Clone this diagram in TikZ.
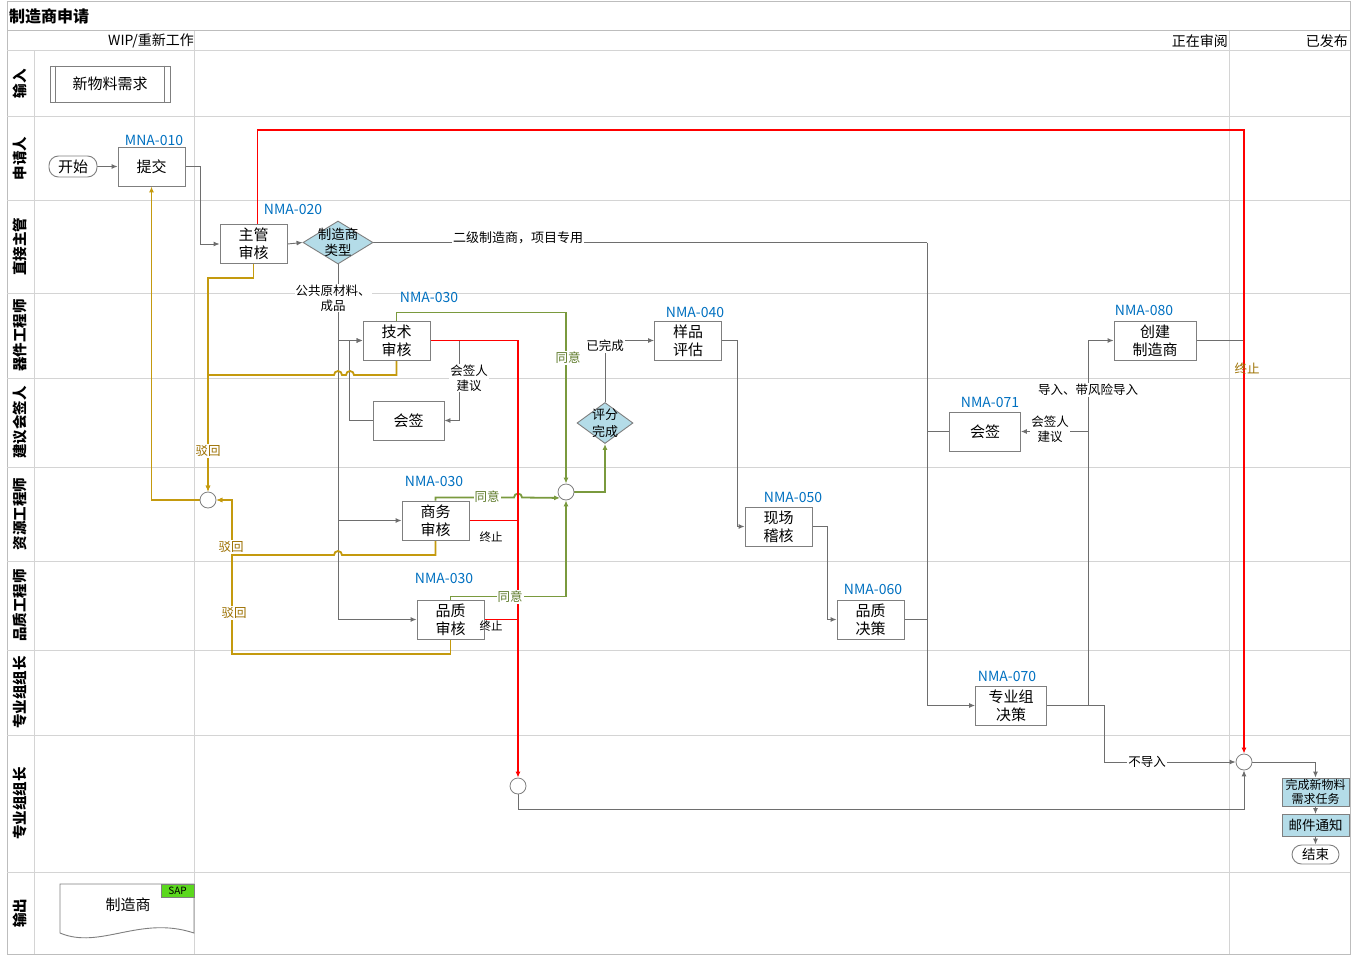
\documentclass[tikz,border=0pt]{standalone}
\usepackage{fontspec}
\setmainfont{Noto Sans CJK SC}
\usetikzlibrary{arrows.meta,shapes.geometric}
\definecolor{gridc}{HTML}{D4D4D4}
\definecolor{gridd}{HTML}{BDBDBD}
\definecolor{boxc}{HTML}{7F7F7F}
\definecolor{lnc}{HTML}{6E6E6E}
\definecolor{goldc}{HTML}{C49A0E}
\definecolor{goldt}{HTML}{9C7000}
\definecolor{grnc}{HTML}{7A9A3E}
\definecolor{grnt}{HTML}{5E7A2A}
\definecolor{redc}{HTML}{FF0000}
\definecolor{bluet}{HTML}{0070C0}
\definecolor{fillb}{HTML}{B4DCE8}
\definecolor{sapg}{HTML}{5BD81E}
\pgfdeclarelayer{bg}
\pgfsetlayers{bg,main}
\tikzset{
  box/.style={draw=boxc, fill=white, line width=0.9pt, minimum width=67pt, minimum height=39pt, inner sep=0pt, align=center, font=\fontsize{15}{18}\selectfont},
  bluebox/.style={draw=boxc, fill=fillb, line width=0.9pt, minimum width=67pt, inner sep=0pt, align=center},
  stad/.style={draw=boxc, fill=white, line width=0.9pt, rounded corners=9.5pt, inner sep=0pt},
  dia/.style={diamond, draw=boxc, fill=fillb, line width=0.9pt, inner sep=0pt},
  dtext/.style={align=center, inner sep=0pt, font=\fontsize{13.5}{16.5}\selectfont},
  circ/.style={circle, draw=boxc, fill=white, line width=0.8pt, minimum size=16pt, inner sep=0pt},
  idl/.style={text=bluet, inner sep=0pt, font=\fontsize{14}{16}\selectfont},
  lane/.style={rotate=90, inner sep=0pt, font=\bfseries\fontsize{14.5}{15}\selectfont},
  lbl/.style={fill=white, inner sep=1pt, align=center, font=\fontsize{12.5}{15}\selectfont},
  conn/.style={draw=lnc, line width=0.9pt},
  goldl/.style={draw=goldc, line width=1.8pt},
  grnl/.style={draw=grnc, line width=1.8pt},
  redl/.style={draw=redc, line width=1.9pt},
  arr/.style={-{Latex[length=6pt,width=5pt]}},
  gridl/.style={draw=gridc, line width=1pt},
}
\begin{document}
\begin{tikzpicture}[x=1pt,y=-1pt]
\useasboundingbox (0,0) rectangle (1356,955);
% ---------------- nodes ----------------
\node[anchor=west, inner sep=0pt, font=\bfseries\fontsize{16}{18}\selectfont] (title) at (9,16) {制造商申请};
\node[anchor=east, inner sep=0pt, font=\fontsize{14}{16}\selectfont] (h1) at (194,41) {WIP/重新工作};
\node[anchor=east, inner sep=0pt, font=\fontsize{14}{16}\selectfont] (h2) at (1228,41) {正在审阅};
\node[anchor=east, inner sep=0pt, font=\fontsize{14}{16}\selectfont] (h3) at (1348,41) {已发布};

\node[lane] (ln1) at (20,84) {输入};
\node[lane] (ln2) at (20,158.5) {申请人};
\node[lane] (ln3) at (20,246.5) {直接主管};
\node[lane] (ln4) at (20,335.5) {器件工程师};
\node[lane] (ln5) at (20,422.5) {建议会签人};
\node[lane] (ln6) at (20,514) {资源工程师};
\node[lane] (ln7) at (20,605.5) {品质工程师};
\node[lane] (ln8) at (20,692.5) {专业组组长};
\node[lane] (ln9) at (20,803.5) {专业组组长};
\node[lane] (ln10) at (20,913) {输出};

\node[box, minimum width=120pt, minimum height=36pt] (xwl) at (110,84) {新物料需求};
\node[stad, minimum width=48pt, minimum height=21pt, font=\fontsize{15}{18}\selectfont] (start) at (73,166.5) {开始};
\node[box] (tijiao) at (151.5,166.5) {提交};
\node[box] (zg) at (253.5,244) {主管\\审核};
\node[dia, minimum width=70pt, minimum height=43pt] (mtype) at (338,242.5) {};
\node[dtext] (mtypet) at (338,242.5) {制造商\\类型};
\node[box] (js) at (396.5,340.5) {技术\\审核};
\node[box, minimum width=71pt] (hq1) at (408.5,420.5) {会签};
\node[dia, minimum width=56pt, minimum height=41pt] (pf) at (605,423) {};
\node[dtext, font=\fontsize{13}{16.5}\selectfont] (pft) at (605,423) {评分\\完成};
\node[box] (yp) at (688,340.5) {样品\\评估};
\node[box] (sw) at (435.5,520.5) {商务\\审核};
\node[box] (pz) at (450.5,619.5) {品质\\审核};
\node[circ] (c1) at (208,500) {};
\node[circ] (c2) at (566,492) {};
\node[box] (xc) at (778.5,526.5) {现场\\稽核};
\node[box] (pj) at (870.5,619.5) {品质\\决策};
\node[box, minimum width=71pt] (zy) at (1011,705.5) {专业组\\决策};
\node[box, minimum width=82pt] (cj) at (1155,340.5) {创建\\制造商};
\node[box, minimum width=71pt] (hq2) at (985,431.5) {会签};
\node[circ] (c3) at (1244,762) {};
\node[circ] (c4) at (518,786) {};
\node[bluebox, minimum height=28pt, font=\fontsize{12}{13.5}\selectfont] (wc) at (1315.5,792) {完成新物料\\需求任务};
\node[bluebox, minimum height=22pt, font=\fontsize{13.5}{15}\selectfont] (yj) at (1315.5,825.5) {邮件通知};
\node[stad, minimum width=47pt, minimum height=19pt, font=\fontsize{13.5}{15}\selectfont] (end) at (1315.5,854.5) {结束};

% document output
\draw[draw=boxc, line width=0.9pt, fill=white] (60,884) -- (194,884) -- (194,933) .. controls (140,915) and (100,950) .. (60,933) -- cycle;
\node[inner sep=0pt, font=\fontsize{15}{18}\selectfont] (doc) at (128,905) {制造商};
\node[draw=boxc, fill=sapg, line width=0.8pt, minimum width=33pt, minimum height=13pt, inner sep=0pt, font=\fontsize{10}{10}\selectfont] (sap) at (177.5,890.5) {SAP};

% ids
\node[idl] (i010) at (154,140) {MNA-010};
\node[idl] (i020) at (293,209) {NMA-020};
\node[idl] (i030a) at (429,297) {NMA-030};
\node[idl] (i040) at (695,312) {NMA-040};
\node[idl] (i030b) at (434,481) {NMA-030};
\node[idl] (i030c) at (444,578) {NMA-030};
\node[idl] (i050) at (793,497) {NMA-050};
\node[idl] (i060) at (873,589) {NMA-060};
\node[idl] (i070) at (1007,676) {NMA-070};
\node[idl] (i080) at (1144,310) {NMA-080};
\node[idl] (i071) at (990,402) {NMA-071};

\coordinate (j1) at (927,242.5);
\coordinate (j2) at (1088,705.5);

% connector labels
\node[lbl, font=\fontsize{13}{15}\selectfont] (t1) at (518,238) {二级制造商，项目专用};
\node[lbl] (t2) at (333,298) {公共原材料、\\成品};
\node[lbl] (t3) at (605,346) {已完成};
\node[lbl, text=grnt] (t4) at (568,358) {同意};
\node[lbl] (t5) at (469,378) {会签人\\建议};
\node[lbl, text=goldt] (t6) at (208,451) {驳回};
\node[lbl, text=goldt] (t7) at (231,547) {驳回};
\node[lbl, text=goldt] (t8) at (234,613) {驳回};
\node[lbl, text=grnt] (t9) at (487,497) {同意};
\node[lbl, text=grnt] (t10) at (510,597) {同意};
\node[inner sep=0pt, font=\fontsize{11.5}{13}\selectfont] (t11) at (491,537) {终止};
\node[inner sep=0pt, font=\fontsize{11.5}{13}\selectfont] (t12) at (491,626) {终止};
\node[lbl] (t13) at (1088,390) {导入、带风险导入};
\node[lbl] (t14) at (1050,429) {会签人\\建议};
\node[inner sep=0pt, text=goldt, font=\fontsize{12.5}{15}\selectfont] (t15) at (1247,369) {终止};
\node[lbl] (t16) at (1147,762) {不导入};

% inner bars of predefined process
\draw[boxc, line width=0.9pt] ([xshift=6pt]xwl.north west) -- ([xshift=6pt]xwl.south west);
\draw[boxc, line width=0.9pt] ([xshift=-6pt]xwl.north east) -- ([xshift=-6pt]xwl.south east);

% ---------------- background: grid and connectors ----------------
\begin{pgfonlayer}{bg}
\draw[draw=gridd, line width=1pt] (7,2) rectangle (1350,954);
\draw[draw=gridd, line width=1pt] (7,31) -- (1350,31);
\draw[gridl] (7,51) -- (1350,51);
\foreach \yy in {117,200,293,378,467,561,650,735,872}
  \draw[gridl] (7,\yy) -- (1350,\yy);
\draw[gridl] (34,51) -- (34,954);
\draw[gridl] (194,31) -- (194,954);
\draw[gridl] (1229,31) -- (1229,954);

% gray connectors
\draw[conn, arr] (start.east) -- (tijiao.west);
\draw[conn, arr] (tijiao.east) -- ++(15,0) |- (zg.west);
\draw[conn, arr] (zg.east) -- (mtype.west);
\draw[conn] (mtype.east) -- (j1);
\draw[conn, arr] (j1) |- (zy.west);
\draw[conn, arr] (mtype.south) |- (pz.west);
\draw[conn, arr] (mtype.south |- js.west) -- (js.west);
\draw[conn, arr] (mtype.south |- sw.west) -- (sw.west);
\draw[conn, arr] (js.east) -- ++(29,0) |- (hq1.east);
\draw[conn, arr] (hq1.west) -- ++(-23,0) |- (js.west);
\draw[conn, arr] (pf.north) |- (yp.west);
\draw[conn, arr] (yp.east) -- ++(15,0) |- (xc.west);
\draw[conn, arr] (xc.east) -- ++(15,0) |- (pj.west);
\draw[conn] (pj.east) -- (pj.east -| j1);
\draw[conn] (hq2.west) -- (hq2.west -| j1);
\draw[conn] (zy.east) -- (j2);
\draw[conn, arr] (j2) -- ++(16,0) |- (c3.west);
\draw[conn, arr] (j2) |- (cj.west);
\draw[conn, arr] (j2 |- hq2.east) -- (hq2.east);
\draw[conn] (cj.east) -- (cj.east -| c3.north);
\draw[conn, arr] (c4.south) -- ++(0,15) -| (c3.south);
\draw[conn, arr] (c3.east) -| (wc.north);
\draw[conn, arr] (wc.south) -- (yj.north);
\draw[conn, arr] (yj.south) -- (end.north);

% gold (reject) connectors
\draw[goldl, arr] (zg.south) -- ++(0,14) -| (c1.north);
\draw[goldl, arr] (js.south) -- (396.5,375) -- (354,375) arc[start angle=0, end angle=-180, radius=4] -- (342,375) arc[start angle=0, end angle=-180, radius=4] -- (208,375) -- (c1.north);
\draw[goldl, arr] (c1.west) -| (tijiao.south);
\draw[goldl, arr] (sw.south) -- (435.5,555) -- (342,555) arc[start angle=0, end angle=-180, radius=4] -- (232,555) -- (232,500) -- (c1.east);
\draw[goldl, arr] (pz.south) -- (450.5,654) -- (232,654) -- (232,500) -- (c1.east);

% green (agree) connectors
\draw[grnl, arr] (js.north) -- ++(0,-8) -| (c2.north);
\draw[grnl, arr] (sw.north) -- (435.5,497.5) -- (514,497.5) arc[start angle=180, end angle=360, radius=4] -- (c2.south west);
\draw[grnl, arr] (pz.north) -- ++(0,-3) -| (c2.south);
\draw[grnl, arr] (c2.east) -| (pf.south);

% red (terminate) connectors
\draw[redl, arr] ([xshift=4pt]zg.north) -- ++(0,-94) -| (c3.north);
\draw[redl, arr] (js.east) -| (c4.north);
\draw[redl] (sw.east) -- (sw.east -| c4.north);
\draw[redl] (pz.east) -- (pz.east -| c4.north);
\end{pgfonlayer}
\end{tikzpicture}
\end{document}
